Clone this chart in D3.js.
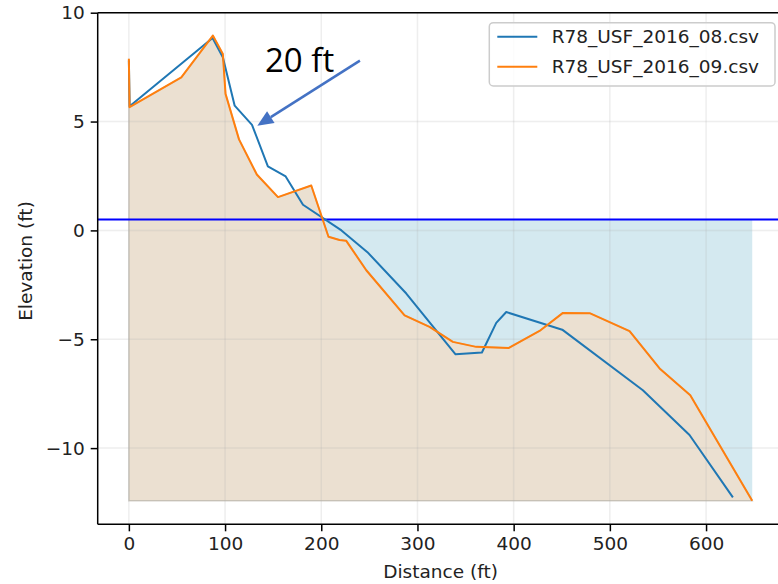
<!DOCTYPE html>
<html lang="en">
<head>
	<meta charset="UTF-8">
	<title> Cross Section </title>
	<style>
		body { margin:0; background:#fff; }
		text { font-family:"DejaVu Sans", sans-serif; fill:#222; }
	</style>
</head>
<body>
	<div id='chart'></div>

	<script src="https://cdnjs.cloudflare.com/ajax/libs/d3/7.8.5/d3.min.js"></script>

	<script type="text/javascript">

	// Survey profiles (distance ft, elevation ft)
	var names = ['R78_USF_2016_08.csv', 'R78_USF_2016_09.csv'];
	var dist08 = [0, 0.8, 87, 97.7, 110, 128, 144.5, 163, 181, 221, 248, 288.4, 339.6, 367, 381.9, 392.3, 450.5, 534.3, 582.8, 627.9];
	var elev08 = [7.8, 5.7, 8.84, 7.95, 5.73, 4.85, 2.94, 2.48, 1.18, 0.0, -1.0, -2.9, -5.69, -5.61, -4.25, -3.75, -4.56, -7.34, -9.4, -12.26];
	var dist09 = [0, 0.7, 54.5, 87.3, 97.7, 100.5, 114.5, 133, 155, 189.6, 207.5, 219, 226, 246.8, 286.6, 312.6, 336.8, 361.1, 395, 426.9, 451.2, 479, 520.5, 551.7, 583.6, 648];
	var elev09 = [7.88, 5.66, 7.03, 8.95, 8.1, 6.27, 4.18, 2.57, 1.53, 2.06, -0.29, -0.44, -0.48, -1.83, -3.9, -4.43, -5.12, -5.35, -5.4, -4.62, -3.79, -3.8, -4.63, -6.34, -7.57, -12.42];
	var colors = ['#1f77b4', '#ff7f0e'];

	var waterLevel = 0.5;
	var baseElev = -12.42;

	var xTicks = [0, 100, 200, 300, 400, 500, 600];
	var yTicks = [-10, -5, 0, 5, 10];

	// Annotation in data units: label position, arrow tail, arrow tip
	var noteText = '20 ft';
	var notePos = [141.5, 7.29];
	var arrowTail = [240.2, 7.8];
	var arrowTip = [133.5, 4.81];

	var width = 778;
	var height = 584;
	var plotL = 97.7, plotR = 783.4, plotT = 12.7, plotB = 524.3;

	var svg = d3.select('#chart')
		.append('svg')
		.attr('width', width)
		.attr('height', height);

	var x = d3.scaleLinear()
		.domain([-32.4, 680.4])
		.range([plotL, plotR]);
	var y = d3.scaleLinear()
		.domain([-13.5, 10])
		.range([plotB, plotT]);

	var data08 = dist08.map(function(d, i) { return { x:d, y:elev08[i] }; });
	var data09 = dist09.map(function(d, i) { return { x:d, y:elev09[i] }; });

	var g = svg.append('g');

	// water body
	var xEnds = d3.extent(dist09);
	g.append('rect')
		.attr('x', x(xEnds[0]))
		.attr('y', y(waterLevel))
		.attr('width', x(xEnds[1]) - x(xEnds[0]))
		.attr('height', y(baseElev) - y(waterLevel))
		.attr('fill', '#d4e9f0');

	// ground under the later survey
	var area = d3.area()
		.x(function(d) { return x(d.x); })
		.y0(y(baseElev))
		.y1(function(d) { return y(d.y); });

	g.append('path')
		.datum(data09)
		.attr('d', area)
		.attr('fill', '#ebe0d1')
		.attr('stroke', 'rgba(160,150,140,0.45)')
		.attr('stroke-width', 1.5);

	// grid
	g.selectAll('.gx')
		.data(xTicks)
		.enter()
		.append('line')
		.attr('x1', function(d) { return x(d); })
		.attr('x2', function(d) { return x(d); })
		.attr('y1', plotT)
		.attr('y2', plotB)
		.attr('stroke', 'rgba(176,176,176,0.22)')
		.attr('stroke-width', 1.5);
	g.selectAll('.gy')
		.data(yTicks)
		.enter()
		.append('line')
		.attr('x1', plotL)
		.attr('x2', plotR)
		.attr('y1', function(d) { return y(d); })
		.attr('y2', function(d) { return y(d); })
		.attr('stroke', 'rgba(176,176,176,0.22)')
		.attr('stroke-width', 1.5);

	// water line
	g.append('line')
		.attr('x1', plotL)
		.attr('x2', plotR)
		.attr('y1', y(waterLevel))
		.attr('y2', y(waterLevel))
		.attr('stroke', '#0000ff')
		.attr('stroke-width', 2);

	var line = d3.line()
		.x(function(d) { return x(d.x); })
		.y(function(d) { return y(d.y); });

	[data08, data09].forEach(function(d, i) {
		g.append('path')
			.datum(d)
			.attr('d', line)
			.attr('fill', 'none')
			.attr('stroke', colors[i])
			.attr('stroke-width', 2)
			.attr('stroke-linejoin', 'round');
	});

	// axes
	var xAxis = svg.append('g')
		.attr('transform', 'translate(0,' + plotB + ')')
		.call(d3.axisBottom(x).tickValues(xTicks).tickSize(7).tickPadding(6));
	var yAxis = svg.append('g')
		.attr('transform', 'translate(' + plotL + ',0)')
		.call(d3.axisLeft(y).tickValues(yTicks).tickSize(7).tickPadding(6)
			.tickFormat(function(d) { return String(d).replace('-', '\u2212'); }));

	[xAxis, yAxis].forEach(function(a) {
		a.select('.domain').remove();
		a.selectAll('line').attr('stroke', '#000').attr('stroke-width', 1.5);
		a.selectAll('text')
			.attr('font-family', '"DejaVu Sans", sans-serif')
			.attr('font-size', '18.5px')
			.attr('fill', '#222');
	});

	// spines
	svg.append('line')
		.attr('x1', plotL).attr('x2', plotL)
		.attr('y1', plotT).attr('y2', plotB)
		.attr('stroke', '#000').attr('stroke-width', 1.5);
	svg.append('line')
		.attr('x1', plotL).attr('x2', plotR)
		.attr('y1', plotB).attr('y2', plotB)
		.attr('stroke', '#000').attr('stroke-width', 1.5);
	svg.append('line')
		.attr('x1', plotL).attr('x2', plotR)
		.attr('y1', plotT).attr('y2', plotT)
		.attr('stroke', '#000').attr('stroke-width', 1.5);

	// axis labels
	svg.append('text')
		.attr('x', (plotL + plotR) / 2)
		.attr('y', 578)
		.attr('text-anchor', 'middle')
		.attr('font-size', '18.5px')
		.text('Distance (ft)');
	svg.append('text')
		.attr('transform', 'translate(31.5,261) rotate(-90)')
		.attr('text-anchor', 'middle')
		.attr('font-size', '18.5px')
		.text('Elevation (ft)');

	// legend
	var lg = svg.append('g');
	lg.append('rect')
		.attr('x', 489.3)
		.attr('y', 22.7)
		.attr('width', 285.7)
		.attr('height', 63.3)
		.attr('rx', 4)
		.attr('fill', 'rgba(255,255,255,0.8)')
		.attr('stroke', '#cccccc')
		.attr('stroke-width', 1.5);
	names.forEach(function(n, i) {
		var ry = 36.7 + i * 30;
		lg.append('line')
			.attr('x1', 497.3).attr('x2', 537.3)
			.attr('y1', ry).attr('y2', ry)
			.attr('stroke', colors[i])
			.attr('stroke-width', 2);
		lg.append('text')
			.attr('x', 551.7)
			.attr('y', ry + 6.6)
			.attr('font-size', '18.5px')
			.text(n);
	});

	// "20 ft" callout
	svg.append('text')
		.attr('x', x(notePos[0]))
		.attr('y', y(notePos[1]))
		.attr('font-family', '"Open Sans", sans-serif')
		.attr('font-size', '33px')
		.style('font-family', '"Open Sans", sans-serif')
		.style('fill', '#000')
		.text(noteText);

	var tx = x(arrowTail[0]), ty = y(arrowTail[1]);
	var hx = x(arrowTip[0]), hy = y(arrowTip[1]);
	var ang = Math.atan2(hy - ty, hx - tx);
	var headLen = 16, headW = 7;
	var bx = hx - headLen * Math.cos(ang), by = hy - headLen * Math.sin(ang);
	svg.append('line')
		.attr('x1', tx).attr('y1', ty)
		.attr('x2', bx).attr('y2', by)
		.attr('stroke', '#4472c4')
		.attr('stroke-width', 2.5);
	svg.append('path')
		.attr('d', 'M' + hx + ',' + hy +
			'L' + (bx + headW * Math.sin(ang)) + ',' + (by - headW * Math.cos(ang)) +
			'L' + (bx - headW * Math.sin(ang)) + ',' + (by + headW * Math.cos(ang)) + 'Z')
		.attr('fill', '#4472c4');

  </script>
</body>
</html>
